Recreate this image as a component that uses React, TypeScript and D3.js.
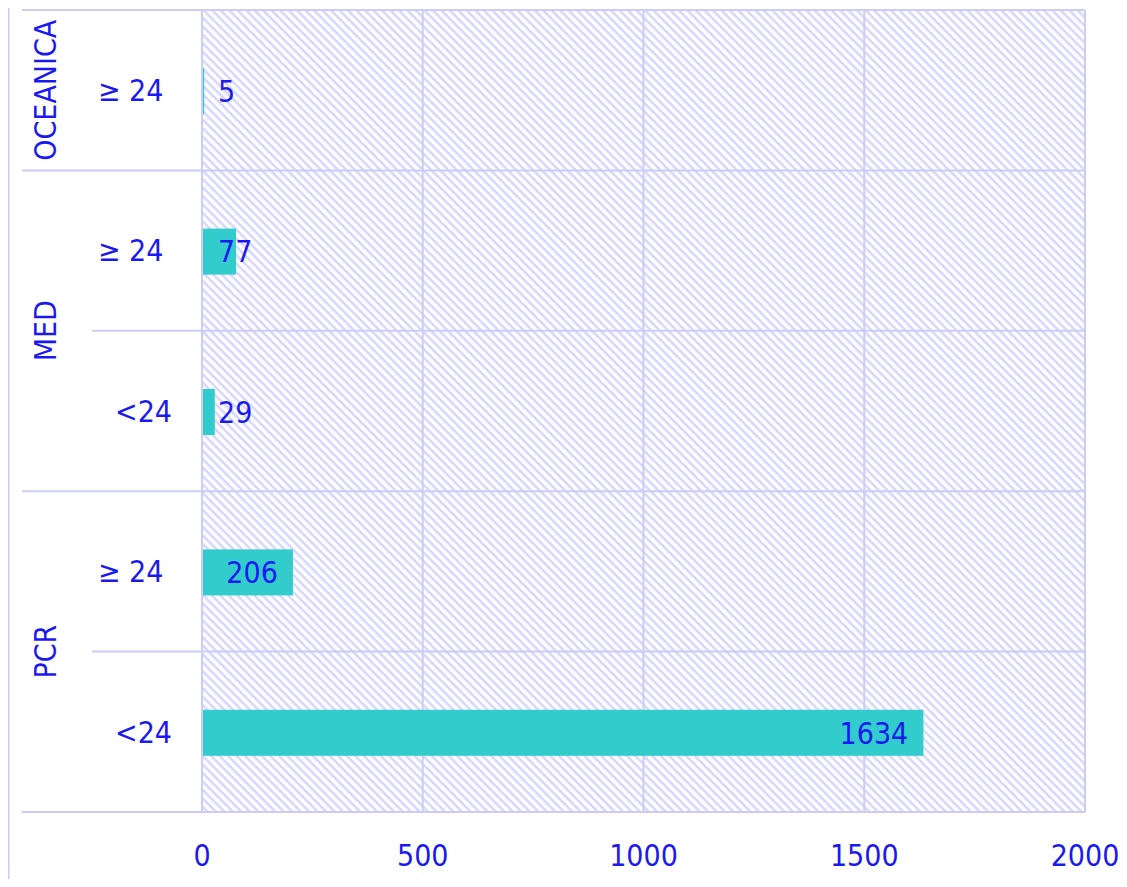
import React from "react";
import * as d3 from "d3";

const groups = ["OCEANICA", "MED", "PCR"];
const subLabels = ["≥ 24\u00A0", "≥ 24\u00A0", "<24", "≥ 24\u00A0", "<24"];
const rowGroups = ["OCEANICA", "MED", "MED", "PCR", "PCR"];
const values = [5, 77, 29, 206, 1634];
const xTicks = [0, 500, 1000, 1500, 2000];

const W = 1127;
const H = 887;
const left = 202;
const right = 1085;
const top = 10;
const bottom = 812;
const FONT = "'DejaVu Sans Condensed', 'DejaVu Sans', sans-serif";
const FS = 30;
const TXT = "#1a1af0";
const GRID = "#ccccf6";

export default function App() {
  const x = d3.scaleLinear().domain([0, 2000]).range([left, right]);
  const idx = values.map((_, i) => i);
  const y = d3.scaleBand<number>().domain(idx).range([top, bottom]).paddingInner(0).paddingOuter(0);
  const bw = y.bandwidth();
  const barH = bw * 0.287;

  const spans = groups.map((g) => {
    const rows = idx.filter((i) => rowGroups[i] === g);
    const y0 = y(rows[0])!;
    const y1 = y(rows[rows.length - 1])! + bw;
    return { g, y0, y1 };
  });

  return (
    <div style={{ margin: -8 }}>
      <svg width={W} height={H} style={{ display: "block", background: "#fff" }}>
        <defs>
          <pattern id="hatch" patternUnits="userSpaceOnUse" width={6} height={6} patternTransform="rotate(45)">
            <rect width={6} height={6} fill="#ffffff" />
            <rect x={0} y={0} width={6} height={2.5} fill="#d6d6fd" />
          </pattern>
        </defs>
        <line x1={8.5} x2={8.5} y1={0} y2={H} stroke={GRID} strokeWidth={2} />
        <rect x={left} y={top} width={right - left} height={bottom - top} fill="url(#hatch)" />
        {xTicks.map((t) => (
          <line key={t} x1={x(t)} x2={x(t)} y1={top} y2={bottom} stroke={GRID} strokeWidth={2} />
        ))}
        {idx.map((i) => {
          const yy = y(i)!;
          const isGroupStart = i === 0 || rowGroups[i] !== rowGroups[i - 1];
          return (
            <line key={"h" + i} x1={isGroupStart ? 22 : 92} x2={right} y1={yy} y2={yy} stroke={GRID} strokeWidth={2} />
          );
        })}
        <line x1={22} x2={right} y1={bottom} y2={bottom} stroke={GRID} strokeWidth={2} />
        {values.map((v, i) => {
          const cy = y(i)! + bw / 2;
          const xe = x(v);
          const txt = String(v);
          const w = txt.length * 17.2;
          const lx = Math.max(xe - 15 - w, left + 16);
          return (
            <g key={"b" + i}>
              <rect x={x(0) + 1} y={cy - barH / 2 + 1} width={Math.max(xe - x(0) - 1, 1)} height={barH} fill="#33cccc" />
              <text x={lx} y={cy + 1} dy="0.36em" fontFamily={FONT} fontSize={FS} fill={TXT}>
                {txt}
              </text>
            </g>
          );
        })}
        {subLabels.map((s, i) => (
          <text
            key={"s" + i}
            x={172}
            y={y(i)! + bw / 2}
            dy="0.36em"
            textAnchor="end"
            fontFamily={FONT}
            fontSize={FS}
            fill={TXT}
            style={{ whiteSpace: "pre" }}
          >
            {s}
          </text>
        ))}
        {spans.map((s) => (
          <text
            key={s.g}
            transform={`translate(45, ${(s.y0 + s.y1) / 2}) rotate(-90)`}
            dy="0.36em"
            textAnchor="middle"
            fontFamily={FONT}
            fontSize={FS}
            fill={TXT}
          >
            {s.g}
          </text>
        ))}
        {xTicks.map((t) => (
          <text key={"t" + t} x={x(t)} y={855} dy="0.36em" textAnchor="middle" fontFamily={FONT} fontSize={FS} fill={TXT}>
            {t}
          </text>
        ))}
      </svg>
    </div>
  );
}
